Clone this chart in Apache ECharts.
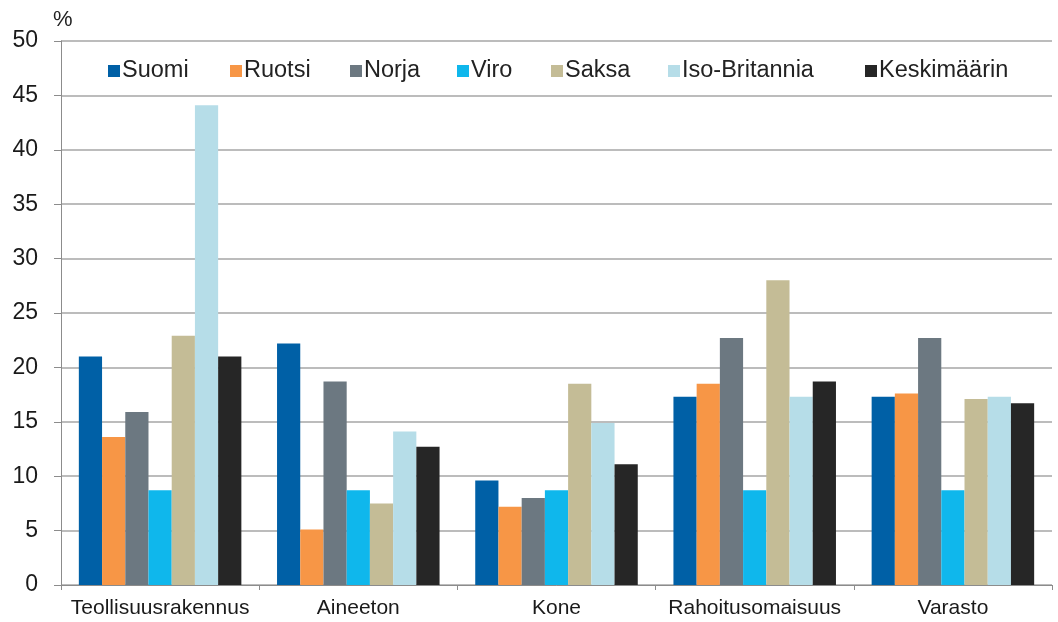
<!DOCTYPE html>
<html><head><meta charset="utf-8">
<script src="https://cdn.jsdelivr.net/npm/echarts@6/dist/echarts.min.js"></script>
<style>html,body{margin:0;padding:0;background:#fff}#c{width:1058px;height:622px}</style>
</head><body><div id="c"></div>
<script>
const categories = ['Teollisuusrakennus','Aineeton','Kone','Rahoitusomaisuus','Varasto'];
const seriesNames = ['Suomi','Ruotsi','Norja','Viro','Saksa','Iso-Britannia','Keskimäärin'];
const suomi = [21.0, 22.2, 9.6, 17.3, 17.3];
const ruotsi = [13.6, 5.1, 7.2, 18.5, 17.6];
const norja = [15.9, 18.7, 8.0, 22.7, 22.7];
const viro = [8.7, 8.7, 8.7, 8.7, 8.7];
const saksa = [22.9, 7.5, 18.5, 28.0, 17.1];
const isoBritannia = [44.1, 14.1, 14.9, 17.3, 17.3];
const keskimaarin = [21.0, 12.7, 11.1, 18.7, 16.7];
const yTicks = [0,5,10,15,20,25,30,35,40,45,50];
const colors = ['#0060a6','#f79646','#6c7881','#0fb7ec','#c4bc96','#b6dde8','#262626'];
const legendLeft = [108, 230, 350, 457, 551, 668, 865];
const values = [suomi, ruotsi, norja, viro, saksa, isoBritannia, keskimaarin];
const font = '"Liberation Sans", Arial, sans-serif';
const chart = echarts.init(document.getElementById('c'));
chart.setOption({
  animation: false,
  color: colors,
  grid: {left: 61, right: 6, top: 41, bottom: 37, containLabel: false},
  legend: seriesNames.map((n, i) => ({
    left: legendLeft[i], top: 59, itemWidth: 12, itemHeight: 12, padding: 0,
    icon: 'rect',
    textStyle: {fontFamily: font, fontSize: 23.5, color: '#222', padding: [0,0,0,-3]},
    data: [n]
  })),
  xAxis: {
    type: 'category', data: categories,
    axisLine: {lineStyle: {color: '#8c8c8c', width: 1}},
    axisTick: {show: true, length: 5, lineStyle: {color: '#8c8c8c'}},
    axisLabel: {fontFamily: font, fontSize: 21, color: '#1a1a1a', margin: 13, interval: 0}
  },
  yAxis: {
    type: 'value', min: yTicks[0], max: yTicks[yTicks.length-1], interval: 5,
    name: '%', nameLocation: 'end', nameGap: 10,
    nameTextStyle: {fontFamily: font, fontSize: 22, color: '#222', align: 'left', padding: [0,0,0,-8]},
    axisLine: {show: true, lineStyle: {color: '#8c8c8c'}},
    axisTick: {show: true, length: 7, lineStyle: {color: '#8c8c8c'}},
    axisLabel: {fontFamily: font, fontSize: 23, color: '#1a1a1a', margin: 23},
    splitLine: {lineStyle: {color: '#a6a6a6', width: 1.5}}
  },
  series: seriesNames.map((n, i) => ({
    name: n, type: 'bar', data: values[i],
    barGap: '0%', barCategoryGap: '18%'
  }))
});
</script></body></html>
